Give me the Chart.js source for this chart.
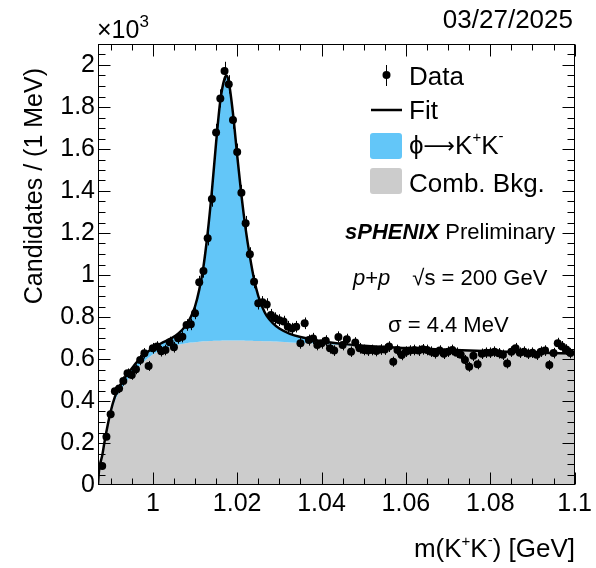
<!DOCTYPE html>
<html>
<head>
<meta charset="utf-8">
<script src="https://cdn.jsdelivr.net/npm/chart.js@4.4.1/dist/chart.umd.min.js"></script>
<style>
  html, body { margin: 0; padding: 0; background: #fff; }
  #wrap { width: 596px; height: 568px; }
</style>
</head>
<body>
<div id="wrap"><canvas id="chart" width="596" height="568"></canvas></div>
<script>
"use strict";

// Bin centres of m(K+K-) in GeV (1 MeV bins)
const massBins = [
  0.988, 0.989, 0.990, 0.991, 0.992, 0.993, 0.994, 0.995, 0.996, 0.997,
  0.998, 0.999, 1.000, 1.001, 1.002, 1.003, 1.004, 1.005, 1.006, 1.007,
  1.008, 1.009, 1.010, 1.011, 1.012, 1.013, 1.014, 1.015, 1.016, 1.017,
  1.018, 1.019, 1.020, 1.021, 1.022, 1.023, 1.024, 1.025, 1.026, 1.027,
  1.028, 1.029, 1.030, 1.031, 1.032, 1.033, 1.034, 1.035, 1.036, 1.037,
  1.038, 1.039, 1.040, 1.041, 1.042, 1.043, 1.044, 1.045, 1.046, 1.047,
  1.048, 1.049, 1.050, 1.051, 1.052, 1.053, 1.054, 1.055, 1.056, 1.057,
  1.058, 1.059, 1.060, 1.061, 1.062, 1.063, 1.064, 1.065, 1.066, 1.067,
  1.068, 1.069, 1.070, 1.071, 1.072, 1.073, 1.074, 1.075, 1.076, 1.077,
  1.078, 1.079, 1.080, 1.081, 1.082, 1.083, 1.084, 1.085, 1.086, 1.087,
  1.088, 1.089, 1.090, 1.091, 1.092, 1.093, 1.094, 1.095, 1.096, 1.097,
  1.098, 1.099
];

// Candidates per bin, in units of 10^3
const candidates = [
  0.090, 0.230, 0.337, 0.446, 0.459, 0.495, 0.532, 0.524, 0.551, 0.595,
  0.627, 0.567, 0.651, 0.659, 0.637, 0.643, 0.680, 0.656, 0.699, 0.706,
  0.762, 0.765, 0.818, 0.965, 1.019, 1.175, 1.362, 1.679, 1.841, 1.971,
  1.908, 1.738, 1.586, 1.392, 1.246, 1.099, 0.968, 0.865, 0.870, 0.860,
  0.810, 0.794, 0.785, 0.778, 0.754, 0.745, 0.754, 0.675, 0.770, 0.690,
  0.698, 0.667, 0.675, 0.687, 0.651, 0.640, 0.705, 0.667, 0.694, 0.635,
  0.678, 0.651, 0.643, 0.640, 0.643, 0.638, 0.645, 0.645, 0.659, 0.587,
  0.643, 0.619, 0.635, 0.640, 0.643, 0.640, 0.646, 0.643, 0.635, 0.627,
  0.640, 0.625, 0.635, 0.643, 0.630, 0.620, 0.595, 0.563, 0.615, 0.575,
  0.625, 0.630, 0.630, 0.635, 0.627, 0.620, 0.579, 0.635, 0.651, 0.630,
  0.635, 0.625, 0.630, 0.620, 0.635, 0.640, 0.571, 0.628, 0.675, 0.660,
  0.645, 0.628
];

// Fit curve (total and combinatorial background), read at these masses
const fitMass = [
  0.9870, 0.9872, 0.9875, 0.9880, 0.9885, 0.9890, 0.9900, 0.9910, 0.9920, 0.9930,
  0.9940, 0.9950, 0.9960, 0.9980, 1.0000, 1.0020, 1.0040, 1.0060, 1.0080, 1.0090,
  1.0100, 1.0110, 1.0120, 1.0130, 1.0140, 1.0150, 1.0160, 1.0170, 1.0175, 1.0180,
  1.0190, 1.0200, 1.0210, 1.0220, 1.0230, 1.0240, 1.0250, 1.0260, 1.0270, 1.0285,
  1.0300, 1.0325, 1.0350, 1.0400, 1.0450, 1.0500, 1.0600, 1.0700, 1.0800, 1.0900,
  1.1000
];
const fitTotal = [
  0.000, 0.060, 0.100, 0.140, 0.200, 0.255, 0.350, 0.420, 0.465, 0.500,
  0.530, 0.555, 0.580, 0.620, 0.652, 0.675, 0.695, 0.720, 0.765, 0.800,
  0.850, 0.930, 1.040, 1.200, 1.400, 1.630, 1.830, 1.935, 1.950, 1.920,
  1.770, 1.570, 1.380, 1.220, 1.090, 0.980, 0.900, 0.845, 0.805, 0.770,
  0.745, 0.720, 0.705, 0.685, 0.672, 0.663, 0.652, 0.644, 0.637, 0.631,
  0.626
];
const fitBkg = [
  0.000, 0.060, 0.100, 0.135, 0.190, 0.245, 0.335, 0.400, 0.440, 0.470,
  0.500, 0.525, 0.550, 0.590, 0.622, 0.643, 0.658, 0.668, 0.675, 0.678,
  0.680, 0.682, 0.684, 0.685, 0.686, 0.687, 0.687, 0.688, 0.688, 0.688,
  0.688, 0.688, 0.688, 0.687, 0.687, 0.686, 0.686, 0.685, 0.684, 0.683,
  0.682, 0.679, 0.677, 0.672, 0.667, 0.661, 0.651, 0.644, 0.637, 0.631,
  0.626
];

// Axis labels
const xTicks = [1.0, 1.02, 1.04, 1.06, 1.08, 1.1];
const yTicks = [0, 0.2, 0.4, 0.6, 0.8, 1.0, 1.2, 1.4, 1.6, 1.8, 2.0];

const FONT = '"Liberation Sans", Arial, Helvetica, sans-serif';
const SIGNAL_BLUE = '#63c6f8';
const BKG_GREY = '#cccccc';

// Draws a line of text made of parts with their own size, style and raise
function drawParts(ctx, parts, x, y, align) {
  let total = 0;
  parts.forEach(p => {
    ctx.font = `${p.style || ''} ${p.size}px ${p.family || FONT}`;
    p.w = ctx.measureText(p.text).width;
    total += p.w + (p.gap || 0);
  });
  let cx = align === 'right' ? x - total : x;
  parts.forEach(p => {
    ctx.font = `${p.style || ''} ${p.size}px ${p.family || FONT}`;
    ctx.fillText(p.text, cx, y - (p.raise || 0));
    cx += p.w + (p.gap || 0);
  });
  return cx;
}

// ROOT-like frame, inward ticks, legend and labels
const rootStyle = {
  id: 'rootStyle',
  beforeDatasetDraw(chart, args) {
    if (args.index !== 0) return;
    const ctx = chart.ctx;
    const xs = chart.scales.x, ys = chart.scales.y;
    ctx.save();
    ctx.strokeStyle = '#000';
    ctx.lineWidth = 1;
    ctx.beginPath();
    massBins.forEach((m, i) => {
      const err = Math.sqrt(candidates[i] * 1000) / 1000;
      const px = Math.round(xs.getPixelForValue(m)) + 0.5;
      ctx.moveTo(px, ys.getPixelForValue(candidates[i] + err));
      ctx.lineTo(px, ys.getPixelForValue(candidates[i] - err));
    });
    ctx.stroke();
    ctx.restore();
  },
  afterDraw(chart) {
    const ctx = chart.ctx;
    const { left, right, top, bottom } = chart.chartArea;
    const xs = chart.scales.x, ys = chart.scales.y;
    const L = Math.round(left) + 0.5, R = Math.round(right) - 0.5;
    const T = Math.round(top) + 0.5, B = Math.round(bottom) - 0.5;

    ctx.save();
    ctx.strokeStyle = '#000';
    ctx.lineWidth = 1;
    ctx.strokeRect(L, T, R - L, B - T);

    // ticks on all four sides, pointing in
    ctx.beginPath();
    for (let i = 0; i <= 22; i++) {
      const v = 0.99 + i * 0.005;
      const major = xTicks.some(t => Math.abs(t - v) < 1e-6);
      const len = major ? 12 : 6;
      const px = Math.round(xs.getPixelForValue(v)) + 0.5;
      ctx.moveTo(px, B); ctx.lineTo(px, B - len);
      ctx.moveTo(px, T); ctx.lineTo(px, T + len);
    }
    for (let i = 1; i <= 42; i++) {
      const v = i * 0.05;
      const major = i % 4 === 0;
      const len = major ? 12 : 7;
      const py = Math.round(ys.getPixelForValue(v)) + 0.5;
      ctx.moveTo(L, py); ctx.lineTo(L + len, py);
      ctx.moveTo(R, py); ctx.lineTo(R - len, py);
    }
    ctx.stroke();

    ctx.fillStyle = '#000';
    ctx.textBaseline = 'alphabetic';
    ctx.textAlign = 'left';

    // exponent and date
    drawParts(ctx, [
      { text: '\u00d710', size: 25 },
      { text: '3', size: 17, raise: 11 }
    ], 97, 38, 'left');
    drawParts(ctx, [{ text: '03/27/2025', size: 26 }], 573, 28, 'right');

    // axis titles
    drawParts(ctx, [
      { text: 'm(K', size: 26 },
      { text: '+', size: 15, raise: 11 },
      { text: 'K', size: 26 },
      { text: '-', size: 15, raise: 12 },
      { text: ') [GeV]', size: 26 }
    ], 575, 557, 'right');

    ctx.save();
    ctx.translate(42, 68);
    ctx.rotate(-Math.PI / 2);
    ctx.textAlign = 'right';
    ctx.font = `25px ${FONT}`;
    ctx.fillText('Candidates / (1 MeV)', 0, 0);
    ctx.restore();

    // legend
    ctx.beginPath();
    ctx.moveTo(386.5, 65); ctx.lineTo(386.5, 86);
    ctx.stroke();
    ctx.beginPath();
    ctx.arc(386.5, 75, 4, 0, Math.PI * 2);
    ctx.fill();
    drawParts(ctx, [{ text: 'Data', size: 26 }], 409, 85, 'left');

    ctx.lineWidth = 2.5;
    ctx.beginPath();
    ctx.moveTo(371, 110); ctx.lineTo(402, 110);
    ctx.stroke();
    drawParts(ctx, [{ text: 'Fit', size: 26 }], 409, 119, 'left');

    ctx.fillStyle = SIGNAL_BLUE;
    ctx.beginPath();
    ctx.roundRect(370, 133, 32, 26, 3);
    ctx.fill();
    ctx.fillStyle = BKG_GREY;
    ctx.beginPath();
    ctx.roundRect(370, 168, 32, 26, 3);
    ctx.fill();
    ctx.fillStyle = '#000';
    drawParts(ctx, [
      { text: '\u03d5', size: 26 },
      { text: '\u27f6', size: 22, family: '"DejaVu Sans", sans-serif', raise: 1 },
      { text: 'K', size: 26 },
      { text: '+', size: 15, raise: 12 },
      { text: 'K', size: 26 },
      { text: '-', size: 15, raise: 13 }
    ], 409, 154, 'left');
    drawParts(ctx, [{ text: 'Comb. Bkg.', size: 26 }], 409, 192, 'left');

    // labels
    drawParts(ctx, [
      { text: 'sPHENIX', size: 22, style: 'italic bold' },
      { text: ' Preliminary', size: 22 }
    ], 345, 239, 'left');

    drawParts(ctx, [
      { text: 'p', size: 22, style: 'italic' },
      { text: '+', size: 22 },
      { text: 'p', size: 22, style: 'italic', gap: 22 },
      { text: '\u221as', size: 22 },
      { text: ' = 200 GeV', size: 22 }
    ], 353, 285, 'left');

    drawParts(ctx, [{ text: '\u03c3 = 4.4 MeV', size: 22 }], 388, 332, 'left');
    ctx.restore();
  }
};

new Chart(document.getElementById('chart'), {
  type: 'line',
  data: {
    datasets: [
      {
        label: 'Data',
        data: massBins.map((m, i) => ({ x: m, y: candidates[i] })),
        showLine: false,
        pointRadius: 4,
        pointBorderWidth: 0,
        pointBackgroundColor: '#000',
        borderColor: '#000'
      },
      {
        label: 'Fit',
        data: fitMass.map((m, i) => ({ x: m, y: fitTotal[i] })),
        borderColor: '#000',
        borderWidth: 2.5,
        pointRadius: 0,
        cubicInterpolationMode: 'monotone',
        fill: { target: 2, above: SIGNAL_BLUE, below: SIGNAL_BLUE }
      },
      {
        label: 'Comb. Bkg.',
        data: fitMass.map((m, i) => ({ x: m, y: fitBkg[i] })),
        borderColor: 'rgba(0,0,0,0)',
        borderWidth: 1,
        pointRadius: 0,
        cubicInterpolationMode: 'monotone',
        backgroundColor: BKG_GREY,
        fill: 'origin'
      }
    ]
  },
  options: {
    responsive: false,
    animation: false,
    events: [],
    layout: { padding: { left: 0, right: 21, top: 44, bottom: 0 } },
    plugins: {
      legend: { display: false },
      tooltip: { enabled: false },
      filler: { drawTime: 'beforeDatasetsDraw' }
    },
    scales: {
      x: {
        type: 'linear',
        min: 0.987,
        max: 1.1,
        grid: { display: false, drawTicks: false },
        border: { display: false },
        afterBuildTicks: s => { s.ticks = xTicks.map(v => ({ value: v })); },
        afterFit: s => { s.height = 83; },
        ticks: {
          padding: 4,
          color: '#000',
          autoSkip: false,
          maxRotation: 0,
          font: { family: FONT, size: 25 },
          callback: v => String(+v.toFixed(2))
        }
      },
      y: {
        type: 'linear',
        min: 0,
        max: 2.1,
        grid: { display: false, drawTicks: false },
        border: { display: false },
        afterBuildTicks: s => { s.ticks = yTicks.map(v => ({ value: v })); },
        afterFit: s => { s.width = 98; },
        ticks: {
          padding: 3,
          color: '#000',
          autoSkip: false,
          font: { family: FONT, size: 25 },
          callback: v => String(+v.toFixed(1))
        }
      }
    }
  },
  plugins: [rootStyle]
});
</script>
</body>
</html>
